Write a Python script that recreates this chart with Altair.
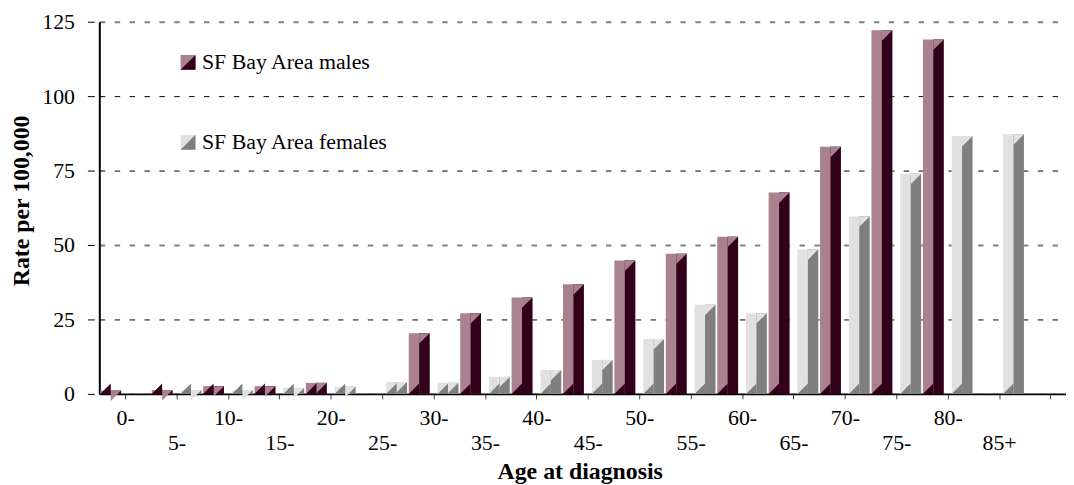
import json
import altair as alt
import pandas as pd

# ---------------- data ----------------
categories = ["0-", "5-", "10-", "15-", "20-", "25-", "30-", "35-", "40-",
              "45-", "50-", "55-", "60-", "65-", "70-", "75-", "80-", "85+"]
males = [1.1, 1.3, 2.6, 2.6, 3.7, None, 20.4, 27.1, 32.4, 36.8, 44.8, 47.1,
         52.8, 67.6, 83.0, 122.1, 119.0, None]
females = [None, 1.3, 1.3, 2.0, 2.4, 4.0, 3.7, 5.7, 8.0, 11.4, 18.4, 29.9,
           27.1, 48.5, 59.6, 73.9, 86.6, 87.2]
series_names = ["SF Bay Area males", "SF Bay Area females"]
y_ticks = [0, 25, 50, 75, 100, 125]

# ---------------- styles / layout ----------------
light_colors = ["#A9818F", "#E1E1E1"]
dark_colors = ["#33001B", "#7F7F7F"]
FONT = "Liberation Serif"
LABEL_SIZE = 22
TITLE_SIZE = 24
STEP = 51.8          # px per age group
PLOT_W = 974
PLOT_H = 375
Y_MAX = 125
BAR_OUT = 25 / STEP  # bar outer edge from group centre (category units)
BAR_IN = 4 / STEP    # bar inner edge from group centre
X_MIN = -26 / STEP
X_MAX = X_MIN + PLOT_W / STEP

rows = []
for i, cat in enumerate(categories):
    for name, vals, side in ((series_names[0], males, -1), (series_names[1], females, 1)):
        v = vals[i]
        if v is None:
            continue
        if side < 0:
            left, right = i - BAR_OUT, i - BAR_IN
        else:
            left, right = i + BAR_IN, i + BAR_OUT
        mid = (left + right) / 2
        rows.append(dict(cat=cat, series=name, value=v, zero=0,
                         L=left, R=right, M=mid,
                         xtop=(mid + right) / 2, xbot=(left + mid) / 2))
df = pd.DataFrame(rows)

tri_px = (BAR_OUT - BAR_IN) / 2 * STEP          # side of the 3-D corner triangles
tri_units = tri_px * Y_MAX / PLOT_H
df["ytop"] = df["value"] - tri_units / 2
df["ybot"] = tri_units / 2

UL_TRI = "M -1 -1 L 1 -1 L -1 1 Z"   # upper-left triangle
LR_TRI = "M 1 -1 L 1 1 L -1 1 Z"     # lower-right triangle

labs = json.dumps(categories + [""])
label_expr = f"datum.value % 2 == 1 ? ['', {labs}[datum.value]] : {labs}[datum.value]"

xscale = alt.Scale(domain=[X_MIN, X_MAX], nice=False, zero=False)
yscale = alt.Scale(domain=[0, Y_MAX], nice=False)

xaxis = alt.Axis(
    values=list(range(len(categories) + 1)), labelExpr=label_expr,
    title="Age at diagnosis", grid=False,
    tickSize=5, tickColor="#404040", tickWidth=1,
    domainColor="#000000", domainWidth=2,
    labelFont=FONT, labelFontSize=LABEL_SIZE, labelColor="#000000",
    labelBaseline="alphabetic", labelPadding=26, labelLineHeight=25.5,
    labelOverlap=False, labelFlush=False,
    titleFont=FONT, titleFontSize=TITLE_SIZE, titleFontWeight="bold", titleColor="#000000",
    titleBaseline="alphabetic", titleX=484, titleY=85,
)
yaxis = alt.Axis(
    values=y_ticks, title="Rate per 100,000", grid=True,
    gridColor={"condition": {"test": "datum.value == 50 || datum.value == 125", "value": "#808080"},
               "value": "#000000"},
    gridWidth={"condition": {"test": "datum.value == 125 || datum.value == 50", "value": 2}, "value": 1},
    gridDash=[5.5, 9.5],
    tickSize=12, tickDash=[0, 5, 7], tickColor="#000000", tickWidth=1,
    domainColor="#000000", domainWidth=2,
    labelFont=FONT, labelFontSize=LABEL_SIZE, labelColor="#000000", labelPadding=13,
    titleFont=FONT, titleFontSize=TITLE_SIZE, titleFontWeight="bold", titleColor="#000000",
    titleAngle=270, titleBaseline="alphabetic", titleX=-71.7, titleY=180,
)

legend_common = dict(orient="none", legendX=78.4, legendY=30, padding=0,
                     symbolSize=225, symbolStrokeWidth=0, symbolOpacity=1,
                     labelFont=FONT, labelFontSize=LABEL_SIZE, labelOffset=3,
                     labelLimit=400, rowPadding=58.5, title=None)

base = alt.Chart(df)

front = base.mark_bar().encode(
    x=alt.X("L:Q", scale=xscale, axis=xaxis),
    x2="R:Q",
    y=alt.Y("value:Q", scale=yscale, axis=yaxis, stack=None),
    y2="zero:Q",
    fill=alt.Fill("series:N", scale=alt.Scale(domain=series_names, range=light_colors),
                  legend=alt.Legend(symbolType="square", labelColor="#000000", **legend_common)),
)
side = base.mark_bar().encode(
    x=alt.X("M:Q", scale=xscale),
    x2="R:Q",
    y=alt.Y("value:Q", scale=yscale, stack=None),
    y2="zero:Q",
    fill=alt.Fill("series:N", scale=alt.Scale(domain=series_names, range=dark_colors),
                  legend=alt.Legend(symbolType=LR_TRI, labelOpacity=0, **legend_common)),
)
top_tri = base.mark_point(shape=UL_TRI, size=tri_px ** 2, filled=True, opacity=1,
                          strokeWidth=0).encode(
    x=alt.X("xtop:Q", scale=xscale),
    y=alt.Y("ytop:Q", scale=yscale),
    fill=alt.Fill("series:N", scale=alt.Scale(domain=series_names, range=light_colors),
                  legend=None),
)
bot_tri = base.mark_point(shape=LR_TRI, size=tri_px ** 2, filled=True, opacity=1,
                          strokeWidth=0).encode(
    x=alt.X("xbot:Q", scale=xscale),
    y=alt.Y("ybot:Q", scale=yscale),
    fill=alt.Fill("series:N", scale=alt.Scale(domain=series_names, range=dark_colors),
                  legend=None),
)

chart = alt.layer(front, side, top_tri, bot_tri).resolve_scale(
    fill="independent"
).properties(
    width=PLOT_W, height=PLOT_H,
    autosize=alt.AutoSizeParams(type="none"),
    padding={"left": 92, "top": 12, "right": 0, "bottom": 90},
    background="#FFFFFF",
).configure_view(strokeWidth=0)

chart.save("out.html", embed_options={"renderer": "svg", "actions": False})
